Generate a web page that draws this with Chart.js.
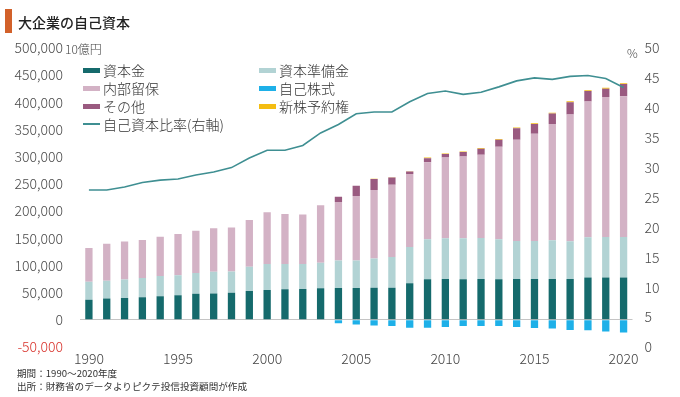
<!DOCTYPE html>
<html><head><meta charset="utf-8">
<script src="https://cdn.jsdelivr.net/npm/chart.js@4"></script>
<style>
html,body{margin:0;padding:0;background:#fff;}
body{width:680px;height:397px;position:relative;overflow:hidden;font-family:"Noto Sans CJK JP","Noto Sans",sans-serif;color:#333;}
#c{position:absolute;left:0;top:0;}
.abs{position:absolute;white-space:nowrap;}
#titlebar{left:5px;top:9px;width:7px;height:24px;background:#d2612a;}
#title{left:18px;top:12px;font-size:14px;line-height:20px;color:#222;font-weight:500;}
#unitL{left:65px;top:41px;font-size:12px;line-height:16px;color:#444;font-weight:300;}
#unitR{left:627px;top:45px;font-size:12px;line-height:16px;color:#444;font-weight:300;}
.foot{left:17px;font-size:9.6px;line-height:12px;color:#333;}
.lg{position:absolute;font-size:14px;line-height:18px;color:#333;white-space:nowrap;font-weight:300;}
.sw{position:absolute;width:17px;height:5px;}
.ln{position:absolute;width:17px;height:2px;}
</style></head>
<body>
<canvas id="c" width="680" height="397"></canvas>
<div class="abs" id="titlebar"></div>
<div class="abs" id="title">大企業の自己資本</div>
<div class="abs" id="unitL">10億円</div>
<div class="abs" id="unitR">%</div>
<div class="abs foot" style="top:367px">期間：1990～2020年度</div>
<div class="abs foot" style="top:380px">出所：財務省のデータよりピクテ投信投資顧問が作成</div>
<div id="legend"></div>
<script>
// ---- data (unit: 10億円, ratio in %) ----
const years = [1990,1991,1992,1993,1994,1995,1996,1997,1998,1999,2000,2001,2002,2003,2004,2005,2006,2007,2008,2009,2010,2011,2012,2013,2014,2015,2016,2017,2018,2019,2020];
const capital  = [37000,39000,40000,41500,43500,45000,48000,48500,49600,52800,55000,56000,56600,58000,58600,58600,59200,59200,67300,74700,75300,74700,75300,74700,75300,75300,75300,75300,77700,77700,77700];
const reserve  = [33000,33000,34000,35500,37000,37000,38000,40000,39400,45000,47800,46800,46200,47000,50400,50400,53700,56200,66600,73300,74700,75300,75200,73300,69700,69700,70900,69100,74100,74700,74700];
const retained = [62000,68000,70000,70000,72500,76000,78000,80000,81000,86000,95000,92000,90700,105800,107600,118700,126000,133200,134500,142000,148600,150500,153000,170400,186300,197400,214000,233200,250000,257300,259000];
const other    = [0,0,0,0,0,0,0,0,0,0,0,0,0,0,9800,19100,20300,13000,4300,7400,6200,8000,11100,12900,21000,17900,19200,22800,19100,15400,22300];
const warrants = [0,0,0,0,0,0,0,0,0,0,0,0,0,0,0,0,500,800,800,1000,1200,1200,1300,1300,1400,1400,1500,1500,1600,1600,1600];
const treasury = [0,0,0,0,0,0,0,0,0,0,0,0,0,0,-6500,-8800,-10500,-11500,-14500,-14800,-13000,-11500,-11500,-11500,-13000,-15000,-16000,-18500,-19000,-21500,-23500];
const equityRatio = [26.25,26.25,26.75,27.5,27.9,28.1,28.75,29.25,30.0,31.6,32.9,32.9,33.7,35.8,37.2,39.0,39.3,39.3,41.0,42.4,42.8,42.25,42.6,43.5,44.5,45.0,44.75,45.25,45.4,44.9,43.4];
const leftTicks = {min:-50000, max:500000, step:50000};
const rightTicks = {min:0, max:50, step:5};
const names = {capital:'資本金', reserve:'資本準備金', retained:'内部留保', treasury:'自己株式', other:'その他', warrants:'新株予約権', ratio:'自己資本比率(右軸)'};
const colors = {capital:'#156a6c', reserve:'#b2d3d4', retained:'#d3b2c5', treasury:'#1eb0e8', other:'#9a5a80', warrants:'#f4bd12', ratio:'#3f8f92'};

// ---- legend (HTML, two columns) ----
const legendItems = [
  ['capital',83,70.5,'box'],['reserve',259,70.5,'box'],
  ['retained',83,88.5,'box'],['treasury',259,88.5,'box'],
  ['other',83,106.2,'box'],['warrants',259,106.2,'box'],
  ['ratio',83,124,'line']
];
const lg = document.getElementById('legend');
legendItems.forEach(([k,x,y,t])=>{
  const s = document.createElement('div');
  s.className = t==='box'?'sw':'ln';
  s.style.left = x+'px';
  s.style.top = (y - (t==='box'?2.5:1))+'px';
  s.style.background = colors[k];
  lg.appendChild(s);
  const tx = document.createElement('div');
  tx.className='lg';
  tx.textContent = names[k];
  tx.style.left = (x+20)+'px';
  tx.style.top = (y-9.5)+'px';
  lg.appendChild(tx);
});

// ---- chart ----
Chart.defaults.font.family = '"Noto Sans CJK JP","Noto Sans",sans-serif';
const barBase = {type:'bar', yAxisID:'y', stack:'s', barPercentage:0.41, categoryPercentage:1.0, borderWidth:0};
new Chart(document.getElementById('c'), {
  data: {
    labels: years,
    datasets: [
      {type:'line', label:names.ratio, data:equityRatio, yAxisID:'y1', borderColor:colors.ratio, borderWidth:1.6, pointRadius:0, fill:false, tension:0},
      Object.assign({label:names.capital, data:capital, backgroundColor:colors.capital}, barBase),
      Object.assign({label:names.reserve, data:reserve, backgroundColor:colors.reserve}, barBase),
      Object.assign({label:names.retained, data:retained, backgroundColor:colors.retained}, barBase),
      Object.assign({label:names.other, data:other, backgroundColor:colors.other}, barBase),
      Object.assign({label:names.warrants, data:warrants, backgroundColor:colors.warrants}, barBase),
      Object.assign({label:names.treasury, data:treasury, backgroundColor:colors.treasury}, barBase)
    ]
  },
  options: {
    responsive:false, animation:false, devicePixelRatio:1,
    layout:{padding:{left:0,right:0,top:48,bottom:0}},
    plugins:{legend:{display:false}, tooltip:{enabled:false}},
    scales:{
      x:{
        stacked:true, offset:true,
        grid:{display:false, drawTicks:false}, border:{display:false},
        ticks:{autoSkip:false, maxRotation:0, padding:3, color:'#444', font:{size:14, weight:'300'},
          callback:function(v,i){ const y=years[i]; return y%5===0 ? String(y) : ''; }},
        afterFit:function(s){ s.height = 50; }
      },
      y:{
        position:'left', stacked:true, min:leftTicks.min, max:leftTicks.max,
        ticks:{stepSize:leftTicks.step, padding:17, font:{size:14, weight:'300'},
          color:function(ctx){ return ctx.tick.value<0 ? '#d8332c' : '#4a4a4a'; },
          callback:function(v){ return v.toLocaleString('en-US'); }},
        grid:{drawTicks:false, lineWidth:1, color:function(ctx){ return ctx.tick && ctx.tick.value===0 ? '#c4c4c4' : 'rgba(0,0,0,0)'; }},
        border:{display:false},
        afterFit:function(s){ s.width = 80; }
      },
      y1:{
        position:'right', stacked:false, min:rightTicks.min, max:rightTicks.max,
        ticks:{stepSize:rightTicks.step, padding:12, color:'#4a4a4a', font:{size:14, weight:'300'}},
        grid:{display:false, drawTicks:false}, border:{display:false},
        afterFit:function(s){ s.width = 47.5; }
      }
    }
  }
});
</script>
</body></html>
